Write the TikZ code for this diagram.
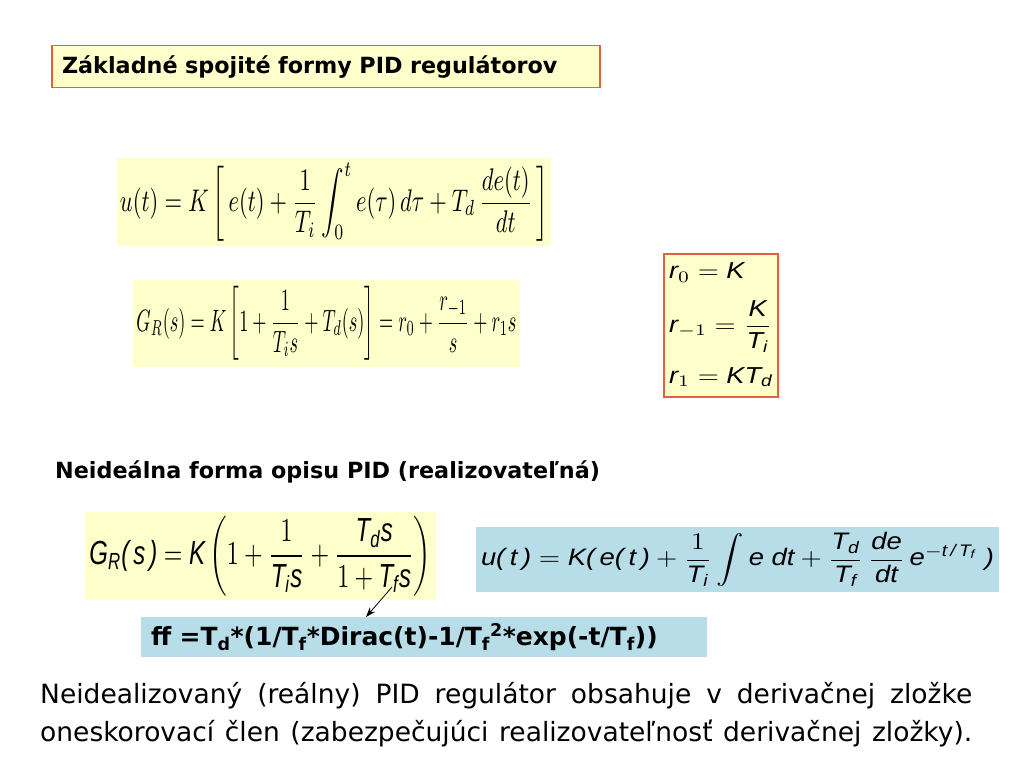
\documentclass[tikz,border=0pt]{standalone}
\usepackage{amsmath}
\usepackage{fontspec}
\setmainfont{DejaVu Sans}
\newfontfamily\arialf{Liberation Sans}
\usetikzlibrary{arrows.meta}
\definecolor{slideyellow}{HTML}{FFFFCC}
\definecolor{slidecyan}{HTML}{B7DDE8}
\definecolor{slidered}{HTML}{E0603F}
\newcommand{\si}[1]{\text{\arialf\itshape #1}}
\tikzset{
  yellowbox/.style={fill=slideyellow, inner sep=0pt},
  cyanbox/.style={fill=slidecyan, inner sep=0pt},
  redbox/.style={fill=slideyellow, draw=slidered, line width=1.2pt, inner sep=0pt},
  heading/.style={font=\fontsize{22.3}{26}\selectfont\bfseries},
  notetext/.style={font=\fontsize{26.5}{30}\selectfont, anchor=base west, inner sep=0pt},
}
\begin{document}
\begin{tikzpicture}[x=1pt, y=-1pt]
  \useasboundingbox[fill=white] (0,0) rectangle (1024,768);
  % title
  \node[redbox, heading, minimum width=548pt, minimum height=42pt, text width=528pt, align=left]
    (title) at (326,66.5) {Základné spojité formy PID regulátorov};
  % ideal forms
  \node[yellowbox, minimum width=434pt, minimum height=88pt] (ideal) at (334,202)
    {\resizebox*{428pt}{78pt}{$\displaystyle u(t) = K\left[\, e(t) + \frac{1}{T_i}\int_0^t e(\tau)\,d\tau + T_d\,\frac{de(t)}{dt}\,\right]$}};
  \node[yellowbox, minimum width=387pt, minimum height=87pt] (transfer) at (326.5,323.5)
    {\resizebox*{380pt}{74pt}{$\displaystyle G_R(s) = K\left[1 + \frac{1}{T_i s} + T_d(s)\right] = r_0 + \frac{r_{-1}}{s} + r_1 s$}};
  \node[redbox, minimum width=114pt, minimum height=143pt] (params) at (721,325.5)
    {\resizebox*{104pt}{132pt}{$\begin{array}{@{}l@{}}
      \si{r}_0 = \si{K}\\[6pt]
      \si{r}_{-1} = \dfrac{\si{K}}{\si{T}_{\si{i}}}\\[10pt]
      \si{r}_1 = \si{KT}_{\si{d}}
    \end{array}$}};
  % non-ideal form
  \node[heading, anchor=base west, inner sep=0pt] (nonideal) at (55,478) {Neideálna forma opisu PID (realizovateľná)};
  \node[yellowbox, minimum width=351pt, minimum height=88pt] (real) at (260.5,556)
    {\resizebox*{342pt}{80pt}{$\displaystyle \si{G}_{\si{R}}\si{(\,s\,)} = \si{K}\left(1 + \frac{1}{\si{T}_{\si{i}}\si{s}} + \frac{\si{T}_{\si{d}}\si{s}}{1 + \si{T}_{\si{f}}\si{s}}\right)$}};
  \node[cyanbox, minimum width=523pt, minimum height=65pt] (realtime) at (737.5,559.5)
    {\resizebox*{513pt}{54pt}{$\displaystyle \si{u(\,t\,)} = \si{K(\,e(\,t\,)} + \frac{1}{\si{T}_{\si{i}}}\int \si{e dt} + \frac{\si{T}_{\si{d}}}{\si{T}_{\si{f}}}\,\frac{\si{de}}{\si{dt}}\,\si{e}^{-\si{t\,/\,T}_{\si{f}}}\;\si{)}$}};
  \node[cyanbox, font=\fontsize{25}{29}\selectfont\bfseries, minimum width=566pt, minimum height=40pt, text width=546pt, align=left]
    (ff) at (424,637)
    {ff =T\textsubscript{d}*(1/T\textsubscript{f}*Dirac(t)-1/T\textsubscript{f}\textsuperscript{2}*exp(-t/T\textsubscript{f}))};
  \coordinate (tfs) at (392,587);
  \coordinate (fftop) at (366,617);
  \begin{scope}[-{Stealth[length=10pt,width=7pt]}, line width=0.8pt]
    \draw (tfs) to (fftop);
  \end{scope}
  % note
  \node[notetext] (note1) at (40,703)
    {\makebox[932pt][s]{Neidealizovaný (reálny) PID regulátor obsahuje v derivačnej zložke}};
  \node[notetext] (note2) at (40,741)
    {\makebox[932pt][s]{oneskorovací člen (zabezpečujúci realizovateľnosť derivačnej zložky).}};
\end{tikzpicture}
\end{document}
